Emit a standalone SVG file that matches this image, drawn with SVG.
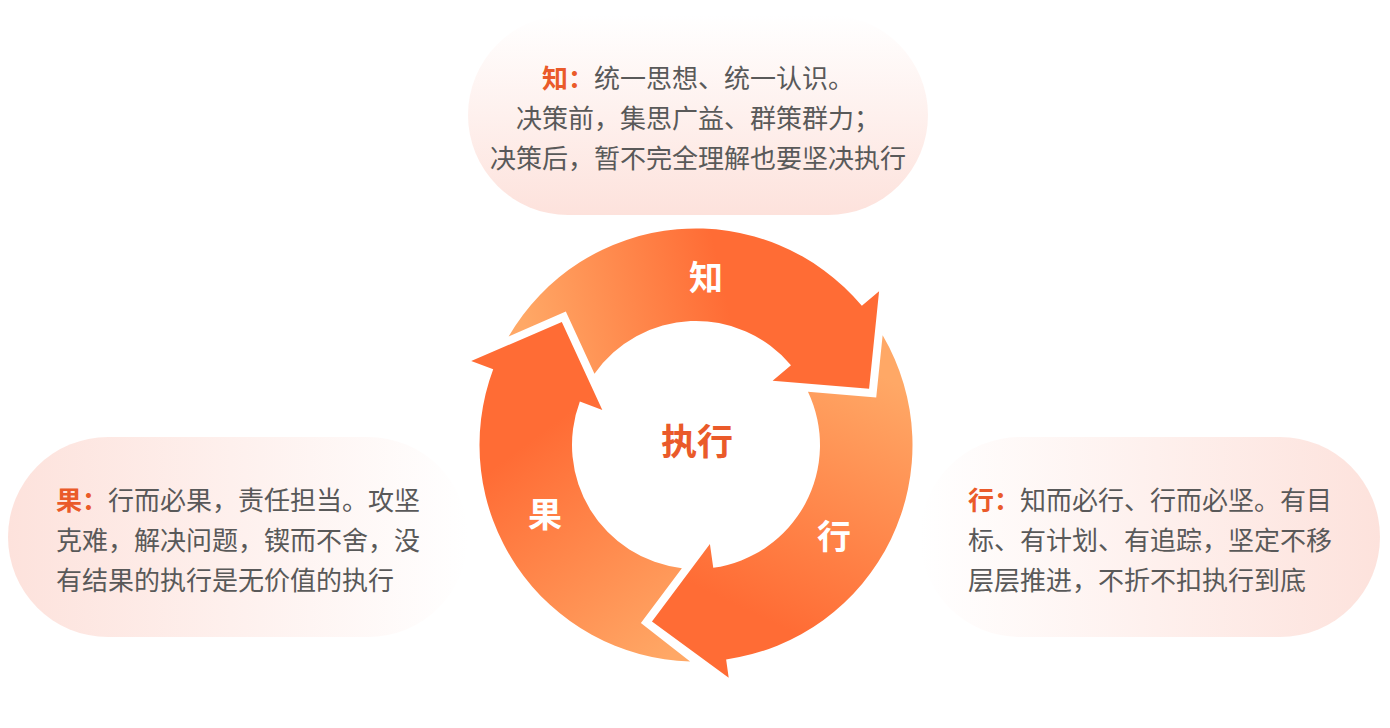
<svg xmlns="http://www.w3.org/2000/svg" width="1390" height="728" viewBox="0 0 1390 728">
<defs>
<linearGradient id="pillTop" x1="0" y1="0" x2="0" y2="1"><stop offset="0" stop-color="#FFFFFF"/><stop offset="1" stop-color="#FDE2DC"/></linearGradient>
<linearGradient id="pillLeft" x1="0" y1="0" x2="1" y2="0"><stop offset="0" stop-color="#FDE2DC"/><stop offset="1" stop-color="#FFFFFF"/></linearGradient>
<linearGradient id="pillRight" x1="0" y1="0" x2="1" y2="0"><stop offset="0" stop-color="#FFFFFF"/><stop offset="1" stop-color="#FDE2DC"/></linearGradient>
<linearGradient id="g1" gradientUnits="userSpaceOnUse" x1="530" y1="350" x2="750" y2="300"><stop offset="0" stop-color="#FFA866"/><stop offset="0.9" stop-color="#FF6C35"/></linearGradient>
<linearGradient id="g2" gradientUnits="userSpaceOnUse" x1="890" y1="380" x2="760" y2="650"><stop offset="0" stop-color="#FFA866"/><stop offset="0.9" stop-color="#FF6C35"/></linearGradient>
<linearGradient id="g3" gradientUnits="userSpaceOnUse" x1="680" y1="650" x2="510" y2="420"><stop offset="0" stop-color="#FFA866"/><stop offset="0.9" stop-color="#FF6C35"/></linearGradient>
</defs>
<style>
.txt{font-family:"Noto Sans CJK SC","Noto Sans",sans-serif;font-size:26px;fill:#595959}
.key{font-weight:700;fill:#EA5A2A}
.lab{font-family:"Noto Sans CJK SC","Noto Sans",sans-serif;font-size:34px;font-weight:700;fill:#FFFFFF;text-anchor:middle}
.center{font-family:"Noto Sans CJK SC","Noto Sans",sans-serif;font-size:36px;font-weight:700;fill:#EA5A2A;text-anchor:middle}
</style>
<rect width="1390" height="728" fill="#FFFFFF"/>

<g id="node-zhi">
<rect x="468" y="15" width="460" height="200" rx="100" fill="url(#pillTop)"/>
<text class="txt" x="698" y="88" text-anchor="middle"><tspan class="key">知：</tspan>统一思想、统一认识。</text>
<text class="txt" x="698" y="128" text-anchor="middle">决策前，集思广益、群策群力；</text>
<text class="txt" x="698" y="168" text-anchor="middle">决策后，暂不完全理解也要坚决执行</text>
</g>

<g id="node-guo">
<rect x="8" y="437" width="460" height="200" rx="100" fill="url(#pillLeft)"/>
<text class="txt" x="56" y="510"><tspan class="key">果：</tspan>行而必果，责任担当。攻坚</text>
<text class="txt" x="56" y="550">克难，解决问题，锲而不舍，没</text>
<text class="txt" x="56" y="590">有结果的执行是无价值的执行</text>
</g>

<g id="node-xing">
<rect x="920" y="437" width="460" height="200" rx="100" fill="url(#pillRight)"/>
<text class="txt" x="968" y="510"><tspan class="key">行：</tspan>知而必行、行而必坚。有目</text>
<text class="txt" x="968" y="550">标、有计划、有追踪，坚定不移</text>
<text class="txt" x="968" y="590">层层推进，不折不扣执行到底</text>
</g>

<g id="connectors">
<path id="arrow-zhi" fill="url(#g1)" d="M 508.60 336.59 A 216.5 216.5 0 0 1 861.85 305.84 L 879.08 291.37 L 869.09 388.76 L 772.60 380.72 L 790.99 365.29 A 124 124 0 0 0 594.47 373.80 L 565.82 311.59 Z"/>
<path id="arrow-xing" fill="url(#g2)" d="M 882.64 335.28 A 216.5 216.5 0 0 1 726.13 659.39 L 728.70 677.71 L 651.97 621.59 L 709.92 544.03 L 713.26 567.79 A 124 124 0 0 0 807.96 391.69 L 876.22 397.38 Z"/>
<path id="arrow-guo" fill="url(#g3)" d="M 690.14 661.42 A 216.5 216.5 0 0 1 493.21 369.18 L 471.20 360.95 L 561.82 322.04 L 602.33 409.98 L 579.85 401.57 A 124 124 0 0 0 681.88 568.19 L 640.88 623.06 Z"/>
<text class="lab" x="706" y="290">知</text>
<text class="lab" x="834" y="549">行</text>
<text class="lab" x="545" y="527">果</text>
</g>

<g id="node-center">
<text class="center" x="697" y="455">执行</text>
</g>
</svg>
